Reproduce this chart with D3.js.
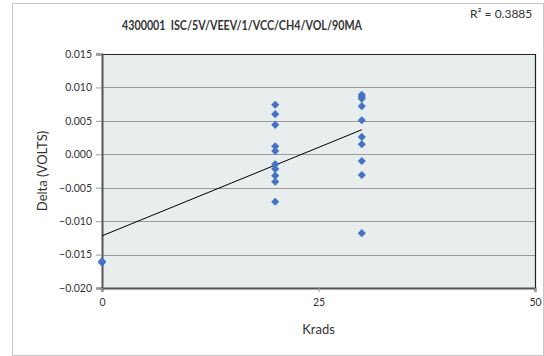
<!DOCTYPE html>
<head>
    <meta charset="utf-8">
    <title>4300001 ISC</title>
    <style>
        body { margin: 0; background: #fff; }
        text { font-family: Lato, "Open Sans", sans-serif; fill: #333; }
    </style>
</head>
<body>
<svg width="544" height="356"></svg>
<script src="https://d3js.org/d3.v7.min.js"></script>
<script>

    // data
    var krads = [0, 0,
        20, 20, 20, 20, 20, 20, 20, 20, 20, 20,
        30, 30, 30, 30, 30, 30, 30, 30, 30, 30];
    var delta = [-0.0160, -0.0162,
        0.0074, 0.0060, 0.0044, 0.0012, 0.0005, -0.0015, -0.0022, -0.0032, -0.0041, -0.0071,
        0.0089, 0.0086, 0.0072, 0.0051, 0.0026, 0.0015, -0.0010, -0.0031, -0.0118, 0.0083];
    var trendX = [0, 30];
    var trendY = [-0.0122, 0.00367];
    var xTicks = [0, 25, 50];
    var yTicks = [0.015, 0.010, 0.005, 0.000, -0.005, -0.010, -0.015, -0.020];
    var title = "4300001  ISC/5V/VEEV/1/VCC/CH4/VOL/90MA";
    var rLabel = "R² = 0.3885";

    var svg = d3.select("svg");

    // chart frame
    svg.append("rect")
        .attr("x", 12.5).attr("y", 3.5)
        .attr("width", 531).attr("height", 352)
        .attr("fill", "#fff")
        .attr("stroke", "#c8c8c8");

    var pLeft = 102, pRight = 535, pTop = 54, pBottom = 288;

    var x = d3.scaleLinear().domain([0, 50]).range([pLeft, pRight]);
    var y = d3.scaleLinear().domain([-0.020, 0.015]).range([pBottom, pTop]);

    //plot area
    svg.append("rect")
        .attr("x", pLeft).attr("y", pTop)
        .attr("width", pRight - pLeft).attr("height", pBottom - pTop)
        .attr("fill", "#e8eded");

    //grid lines
    svg.append("g")
        .selectAll("line")
        .data(yTicks.slice(1, -1))
        .enter().append("line")
            .attr("x1", pLeft).attr("x2", pRight)
            .attr("y1", d => Math.round(y(d)) + 0.5)
            .attr("y2", d => Math.round(y(d)) + 0.5)
            .attr("stroke", "#9a9a9a");

    //frame of plot area
    svg.append("path")
        .attr("d", `M${pLeft},${pTop + 0.5}H${pRight + 0.5}V${pBottom}`)
        .attr("fill", "none")
        .attr("stroke", "#222")
        .attr("stroke-width", 1.2);

    //axes
    var yAxis = svg.append("g")
        .attr("transform", `translate(${pLeft},0)`)
        .call(d3.axisLeft(y).tickValues(yTicks).tickFormat(d3.format(".3f")).tickSize(6).tickPadding(4));
    var xAxis = svg.append("g")
        .attr("transform", `translate(0,${pBottom})`)
        .call(d3.axisBottom(x).tickValues(xTicks).tickSize(4).tickPadding(7));

    [yAxis, xAxis].forEach(a => {
        a.select(".domain").attr("stroke", "#555").attr("stroke-width", 2);
        a.selectAll(".tick line").attr("stroke", "#999");
        a.selectAll(".tick text").style("font-size", "10.5px").attr("fill", "#333");
    });

    //trend line
    svg.append("line")
        .attr("x1", x(trendX[0])).attr("y1", y(trendY[0]))
        .attr("x2", x(trendX[1])).attr("y2", y(trendY[1]))
        .attr("stroke", "#000")
        .attr("stroke-width", 1);

    //points
    svg.append("g")
        .selectAll("path")
        .data(krads)
        .enter().append("path")
            .attr("d", d3.symbol().type(d3.symbolDiamond2).size(42))
            .attr("transform", (d, i) => `translate(${x(d)},${y(delta[i])})`)
            .attr("fill", "#4472c4");

    //texts
    svg.append("text")
        .attr("x", 242).attr("y", 30)
        .attr("text-anchor", "middle")
        .attr("textLength", 240)
        .attr("lengthAdjust", "spacingAndGlyphs")
        .style("white-space", "pre")
        .style("font-size", "13px")
        .style("font-weight", "bold")
        .text(title);

    svg.append("text")
        .attr("x", 470).attr("y", 18)
        .style("font-size", "12px")
        .text(rLabel);

    svg.append("text")
        .attr("transform", "translate(47,171) rotate(-90)")
        .attr("text-anchor", "middle")
        .style("font-size", "13px")
        .text("Delta (VOLTS)");

    svg.append("text")
        .attr("x", x(25)).attr("y", 334)
        .attr("text-anchor", "middle")
        .style("font-size", "13px")
        .text("Krads");

</script>
</body>
